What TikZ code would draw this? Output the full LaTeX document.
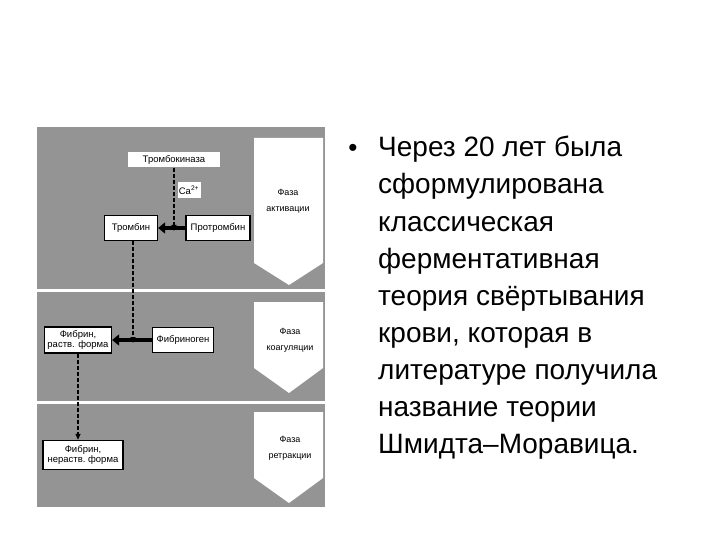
\documentclass[tikz,border=0pt]{standalone}
\usepackage{fontspec}
\setmainfont{Liberation Sans}
\usetikzlibrary{arrows.meta}
\usetikzlibrary{positioning}
\definecolor{scangray}{gray}{0.58}
\tikzset{
    stage/.style={
        draw=black,
        line width=1.3pt,
        fill=white,
        inner sep=1pt,
        align=center,
        font=\fontsize{9.5}{9.5}\selectfont
    },
    tag/.style={
        fill=white,
        inner sep=1pt,
        font=\fontsize{9.5}{10}\selectfont
    },
    every node/.style={font=\rmfamily}
}

\begin{document}
\begin{tikzpicture}[
    x = 1pt,
    y = -1pt,
    react/.style = {line width=4pt, -{Triangle[length=7pt, width=11pt]}},
    flow/.style = {line width=1.3pt, dash pattern=on 4pt off 2pt, -{Triangle[length=6pt, width=5pt]}},
    phase text/.style = {align=center, font=\fontsize{9}{16}\selectfont},
    slide text/.style = {anchor=base west, inner sep=0pt, font=\fontsize{28}{30}\selectfont}
]
\useasboundingbox (0,0) rectangle (720,540);

% Gray panels of the three phases
\fill[scangray] (37,127) rectangle (325,289);
\fill[scangray] (37,292) rectangle (325,401);
\fill[scangray] (37,404) rectangle (325,507);

% Phase arrows pointing down
\foreach \top/\bot/\tip in {138/263/285, 302/368/393, 412/478/503}
    \fill[white] (254,\top) -- (323,\top) -- (323,\bot) -- (289,\tip) -- (254,\bot) -- cycle;

\node[phase text] (act) at (288,201) {Фаза\\активации};
\node[phase text] (coag) at (290,340) {Фаза\\коагуляции};
\node[phase text] (retr) at (290,448) {Фаза\\ретракции};

% Activation phase
\node[tag, minimum width=92pt, minimum height=15pt] (kinase) at (174,160) {Тромбокиназа};
\node[tag, minimum width=23pt, minimum height=16pt] (ca) at (189,190) {Ca\textsuperscript{2+}};
\node[stage, minimum width=53pt, minimum height=25pt] (thrombin) at (131,228) {Тромбин};
\node[stage, minimum width=64pt, minimum height=25pt] (prothrombin) at (218,228) {Протромбин};
\coordinate (hit1) at (kinase.south |- thrombin.east);

% Coagulation phase
\node[stage, minimum width=67pt, minimum height=26pt] (fibsol) at (78,340) {Фибрин,\\раств. форма};
\node[stage, minimum width=61pt, minimum height=25pt] (fibrinogen) at (183,340) {Фибриноген};
\coordinate (hit2) at ([xshift=2pt]thrombin.south |- fibsol.east);

% Retraction phase
\node[stage, minimum width=80pt, minimum height=29pt] (fibins) at (83,455) {Фибрин,\\нераств.\ форма};

% Arrows
\path[react] (prothrombin) edge (thrombin);
\path[react] (fibrinogen) edge (fibsol);
\draw[flow] (kinase.south) -- ([yshift=-3pt]hit1);
\draw[flow] ([xshift=2pt]thrombin.south) -- ([yshift=-3pt]hit2);
\draw[flow] (fibsol.south) -- (fibsol.south |- fibins.north);

% Text of the slide
\node[anchor=base, inner sep=0pt, font=\fontsize{26}{30}\selectfont] (dot) at (353,157) {•};
\foreach \line [count=\i from 0] in {Через 20 лет была, сформулирована, классическая,
    ферментативная, теория свёртывания, {крови, которая в}, литературе получила,
    название теории, Шмидта–Моравица.}
    \node[slide text] (line\i) at (378,157+37*\i) {\line};
\end{tikzpicture}
\end{document}
